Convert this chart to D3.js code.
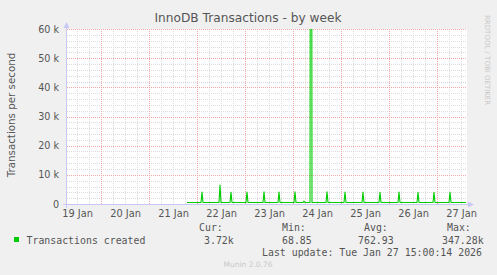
<!DOCTYPE html>
<html>
<head>
<meta charset="utf-8">
<script src="https://cdn.jsdelivr.net/npm/d3@7/dist/d3.min.js"></script>
<style>
  body { margin: 0; background: #f0f0f0; }
  svg { display: block; }
</style>
</head>
<body>
<svg id="chart" width="497" height="275"></svg>
<script>

//////////////////////
// Data
//////////////////////

// time window of the week graph (munin: 400 px x 1800 s)
var windowStart = "2026-01-19 07:00";
var windowEnd = "2026-01-27 15:00";

// vertices of the "Transactions created" line (30 min samples)
var sampleTimes = [
    "2026-01-21 19:00",
    "2026-01-22 02:00", "2026-01-22 02:30", "2026-01-22 03:00",
    "2026-01-22 11:00", "2026-01-22 11:30", "2026-01-22 12:00",
    "2026-01-22 16:30", "2026-01-22 17:00", "2026-01-22 17:30",
    "2026-01-23 00:30", "2026-01-23 01:00", "2026-01-23 01:30",
    "2026-01-23 09:00", "2026-01-23 09:30", "2026-01-23 10:00",
    "2026-01-23 16:30", "2026-01-23 17:00", "2026-01-23 17:30",
    "2026-01-24 00:30", "2026-01-24 01:00", "2026-01-24 01:30",
    "2026-01-24 05:00", "2026-01-24 05:30", "2026-01-24 06:00",
    "2026-01-24 08:30", "2026-01-24 09:00", "2026-01-24 09:30",
    "2026-01-24 16:30", "2026-01-24 17:00", "2026-01-24 17:30",
    "2026-01-25 01:30", "2026-01-25 02:00", "2026-01-25 02:30",
    "2026-01-25 10:30", "2026-01-25 11:00", "2026-01-25 11:30",
    "2026-01-25 19:00", "2026-01-25 19:30", "2026-01-25 20:00",
    "2026-01-26 04:30", "2026-01-26 05:00", "2026-01-26 05:30",
    "2026-01-26 14:00", "2026-01-26 14:30", "2026-01-26 15:00",
    "2026-01-26 22:00", "2026-01-26 22:30", "2026-01-26 23:00",
    "2026-01-27 06:00", "2026-01-27 06:30", "2026-01-27 07:00",
    "2026-01-27 14:30"
];
var transactions = [
    500,
    500, 4100, 500,
    500, 6500, 500,
    500, 4000, 500,
    500, 4100, 500,
    500, 4200, 500,
    500, 4100, 500,
    500, 4200, 500,
    500, 1000, 500,
    500, 347280, 500,
    500, 4200, 500,
    500, 4100, 500,
    500, 4100, 500,
    500, 4000, 500,
    500, 4100, 500,
    500, 4000, 500,
    500, 4000, 500,
    500, 4000, 500,
    500
];

var yTicks = [0, 10000, 20000, 30000, 40000, 50000, 60000];
var yTickLabels = ["0", "10 k", "20 k", "30 k", "40 k", "50 k", "60 k"];

var legendHeaders = ["Cur:", "Min:", "Avg:", "Max:"];
var legendValues = ["3.72k", "68.85", "762.93", "347.28k"];
var seriesName = "Transactions created";
var lastUpdate = "Last update: Tue Jan 27 15:00:14 2026";

//////////////////////
// Layout
//////////////////////

var plot = { left: 67, top: 29, width: 400, height: 175 };
var svg = d3.select("#chart");
var parseTime = d3.timeParse("%Y-%m-%d %H:%M");

var x = d3.scaleTime()
    .domain([parseTime(windowStart), parseTime(windowEnd)])
    .range([plot.left, plot.left + plot.width]);

var y = d3.scaleLinear()
    .domain([0, 60000])
    .range([plot.top + plot.height, plot.top]);

var textColor = "#555";
var sans = "DejaVu Sans, sans-serif";
var mono = "DejaVu Sans Mono, monospace";

// plot canvas
svg.append("rect")
    .attr("x", plot.left)
    .attr("y", plot.top)
    .attr("width", plot.width)
    .attr("height", plot.height)
    .attr("fill", "#fff");

//////////////////////
// Grid
//////////////////////

var grid = svg.append("g").attr("shape-rendering", "crispEdges");
var minorColor = "#dcdcdc";
var majorColor = "#f2a6a6";

// minor horizontal every 2 k
grid.selectAll("line.hminor")
    .data(y.ticks(30).filter(function(d) { return d % 10000 !== 0; }))
    .enter().append("line")
        .attr("x1", plot.left).attr("x2", plot.left + plot.width)
        .attr("y1", function(d) { return Math.round(y(d)) + 0.5; })
        .attr("y2", function(d) { return Math.round(y(d)) + 0.5; })
        .attr("stroke", minorColor)
        .attr("stroke-dasharray", "1,1");

// minor vertical every 6 h
grid.selectAll("line.vminor")
    .data(d3.timeHour.every(6).range(x.domain()[0], x.domain()[1]).filter(function(d) { return d.getHours() !== 0; }))
    .enter().append("line")
        .attr("x1", function(d) { return Math.round(x(d)) + 0.5; })
        .attr("x2", function(d) { return Math.round(x(d)) + 0.5; })
        .attr("y1", plot.top).attr("y2", plot.top + plot.height)
        .attr("stroke", minorColor)
        .attr("stroke-dasharray", "1,1");

// major horizontal every 10 k
grid.selectAll("line.hmajor")
    .data(yTicks.slice(1))
    .enter().append("line")
        .attr("x1", plot.left).attr("x2", plot.left + plot.width)
        .attr("y1", function(d) { return Math.round(y(d)) + 0.5; })
        .attr("y2", function(d) { return Math.round(y(d)) + 0.5; })
        .attr("stroke", majorColor)
        .attr("stroke-dasharray", "1,1");

// major vertical at midnight
grid.selectAll("line.vmajor")
    .data(d3.timeDay.every(1).range(x.domain()[0], x.domain()[1]))
    .enter().append("line")
        .attr("x1", function(d) { return Math.round(x(d)) + 0.5; })
        .attr("x2", function(d) { return Math.round(x(d)) + 0.5; })
        .attr("y1", plot.top).attr("y2", plot.top + plot.height)
        .attr("stroke", majorColor)
        .attr("stroke-dasharray", "1,1");

//////////////////////
// Series
//////////////////////

svg.append("clipPath").attr("id", "plotclip")
    .append("rect")
        .attr("x", plot.left).attr("y", plot.top)
        .attr("width", plot.width).attr("height", plot.height);

var points = sampleTimes.map(function(t, i) {
    return { t: parseTime(t), v: transactions[i] };
});

var lineFunction = d3.line()
    .x(function(d) { return x(d.t); })
    .y(function(d) { return y(d.v); });

svg.append("path")
    .datum(points)
    .attr("clip-path", "url(#plotclip)")
    .attr("d", lineFunction)
    .attr("fill", "none")
    .attr("stroke", "#00cc00")
    .attr("stroke-width", 1.1)
    .attr("stroke-linejoin", "round");

//////////////////////
// Axes
//////////////////////

var axisColor = "#c8c8f4";

svg.append("line")
    .attr("x1", plot.left - 4).attr("x2", plot.left + plot.width + 2)
    .attr("y1", plot.top + plot.height + 0.5).attr("y2", plot.top + plot.height + 0.5)
    .attr("stroke", axisColor);
svg.append("path")
    .attr("d", "M" + (plot.left + plot.width + 1) + "," + (plot.top + plot.height - 2.5) +
        "L" + (plot.left + plot.width + 7) + "," + (plot.top + plot.height + 0.5) +
        "L" + (plot.left + plot.width + 1) + "," + (plot.top + plot.height + 3.5) + "Z")
    .attr("fill", axisColor);

svg.append("line")
    .attr("x1", plot.left - 0.5).attr("x2", plot.left - 0.5)
    .attr("y1", plot.top + plot.height + 4).attr("y2", plot.top - 2)
    .attr("stroke", axisColor);
svg.append("path")
    .attr("d", "M" + (plot.left - 3.5) + "," + (plot.top - 1) +
        "L" + (plot.left - 0.5) + "," + (plot.top - 7) +
        "L" + (plot.left + 2.5) + "," + (plot.top - 1) + "Z")
    .attr("fill", axisColor);

// y tick labels
var yAxis = d3.axisLeft(y)
    .tickValues(yTicks)
    .tickSize(0)
    .tickPadding(8)
    .tickFormat(function(d, i) { return yTickLabels[i]; });

svg.append("g")
    .attr("transform", "translate(" + plot.left + ",0)")
    .call(yAxis)
    .call(function(g) { g.select(".domain").remove(); })
    .selectAll("text")
        .attr("fill", textColor)
        .attr("font-family", sans)
        .attr("font-size", "9.6px");

// x tick labels centred at noon of each day
var labelDays = d3.timeDay.range(d3.timeDay.floor(x.domain()[0]), x.domain()[1]);

var xAxis = d3.axisBottom(x)
    .tickValues(labelDays.map(function(d) { return d3.timeHour.offset(d, 12); }))
    .tickSize(0)
    .tickPadding(6)
    .tickFormat(d3.timeFormat("%d %b"));

svg.append("g")
    .attr("transform", "translate(0," + (plot.top + plot.height) + ")")
    .call(xAxis)
    .call(function(g) { g.select(".domain").remove(); })
    .selectAll("text")
        .attr("fill", textColor)
        .attr("font-family", sans)
        .attr("font-size", "9.8px");

//////////////////////
// Titles
//////////////////////

svg.append("text")
    .text("InnoDB Transactions - by week")
    .attr("x", 248).attr("y", 22)
    .attr("text-anchor", "middle")
    .attr("fill", textColor)
    .attr("font-family", sans)
    .attr("font-size", "12.2px");

svg.append("text")
    .text("Transactions per second")
    .attr("transform", "translate(15,115) rotate(-90)")
    .attr("text-anchor", "middle")
    .attr("fill", textColor)
    .attr("font-family", sans)
    .attr("font-size", "10.3px");

svg.append("text")
    .text("RRDTOOL / TOBI OETIKER")
    .attr("transform", "translate(485,15) rotate(90)")
    .attr("fill", "#c8c8c8")
    .attr("font-family", sans)
    .attr("font-size", "7px");

//////////////////////
// Legend
//////////////////////

var headerX = [199, 282, 364, 447];
var valueX = [204, 282, 358, 442];

svg.selectAll("text.lhead")
    .data(legendHeaders)
    .enter().append("text")
        .attr("class", "lhead")
        .text(function(d) { return d; })
        .attr("x", function(d, i) { return headerX[i]; })
        .attr("y", 231)
        .attr("fill", textColor)
        .attr("font-family", mono)
        .attr("font-size", "9.9px");

svg.append("rect")
    .attr("x", 14).attr("y", 237)
    .attr("width", 5).attr("height", 5)
    .attr("fill", "#00cc00");

svg.append("text")
    .text(seriesName)
    .attr("x", 26.5).attr("y", 243.5)
    .attr("fill", textColor)
    .attr("font-family", mono)
    .attr("font-size", "9.9px");

svg.selectAll("text.lval")
    .data(legendValues)
    .enter().append("text")
        .attr("class", "lval")
        .text(function(d) { return d; })
        .attr("x", function(d, i) { return valueX[i]; })
        .attr("y", 243.5)
        .attr("fill", textColor)
        .attr("font-family", mono)
        .attr("font-size", "9.9px");

svg.append("text")
    .text(lastUpdate)
    .attr("x", 262).attr("y", 255.5)
    .attr("fill", textColor)
    .attr("font-family", mono)
    .attr("font-size", "9.9px");

svg.append("text")
    .text("Munin 2.0.76")
    .attr("x", 248).attr("y", 267)
    .attr("text-anchor", "middle")
    .attr("fill", "#c8c8c8")
    .attr("font-family", sans)
    .attr("font-size", "7.5px");

</script>
</body>
</html>
